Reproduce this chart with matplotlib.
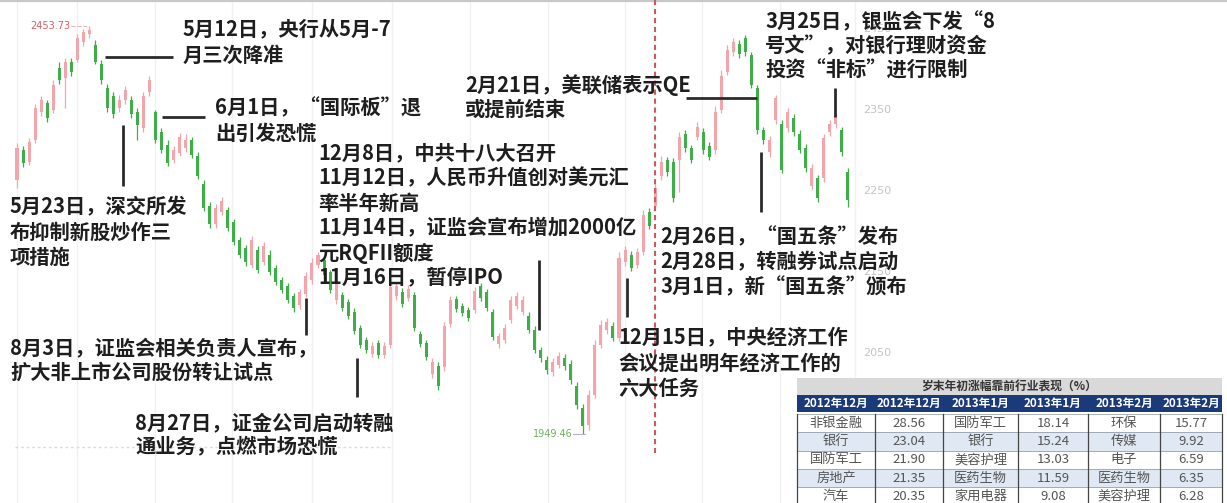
import matplotlib
matplotlib.use("Agg")
import matplotlib.pyplot as plt
from matplotlib.patches import Rectangle
import numpy as np

plt.rcParams['font.family'] = ['Noto Sans CJK SC', 'DejaVu Sans']

# ============================================================
# 数据: 上证指数日K (2012.4 - 2013.4, 读图估计)
# ============================================================
opens = [2264, 2301, 2286, 2313, 2347, 2359, 2350, 2402, 2390, 2409,
         2412, 2434, 2444, 2430, 2407, 2377, 2367, 2352, 2362, 2362,
         2347, 2328, 2372, 2347, 2323, 2307, 2288, 2297, 2303, 2313,
         2293, 2259, 2231, 2209, 2224, 2227, 2212, 2190, 2180, 2159,
         2177, 2162, 2171, 2155, 2140, 2133, 2120, 2109, 2123, 2140,
         2159, 2165, 2150, 2115, 2122, 2113, 2101, 2081, 2066, 2049,
         2062, 2047, 2060, 2120, 2125, 2118, 2122, 2073, 2062, 2024,
         2034, 2033, 2086, 2117, 2108, 2103, 2103, 2133, 2125, 2101,
         2061, 2066, 2091, 2108, 2101, 2096, 2078, 2054, 2041, 2026,
         2035, 2044, 2036, 2009, 1982, 1961, 1998, 2060, 2078, 2083,
         2068, 2162, 2171, 2159, 2175, 2224, 2231, 2268, 2288, 2286,
         2288, 2320, 2303, 2317, 2323, 2306, 2301, 2350, 2397, 2422,
         2431, 2439, 2418, 2377, 2325, 2298, 2338, 2333, 2328, 2340,
         2320, 2303, 2256, 2266, 2266, 2323, 2333, 2325, 2273]
closes = [2303, 2285, 2311, 2352, 2362, 2340, 2381, 2387, 2409, 2397,
          2439, 2446, 2449, 2409, 2387, 2352, 2345, 2362, 2375, 2345,
          2331, 2367, 2387, 2313, 2301, 2285, 2301, 2317, 2313, 2294,
          2269, 2229, 2209, 2229, 2238, 2204, 2187, 2171, 2162, 2190,
          2152, 2182, 2150, 2138, 2128, 2115, 2106, 2125, 2145, 2161,
          2171, 2146, 2128, 2135, 2106, 2096, 2077, 2060, 2054, 2059,
          2047, 2059, 2131, 2133, 2110, 2129, 2081, 2061, 2045, 2039,
          2009, 2083, 2115, 2104, 2099, 2093, 2126, 2118, 2106, 2070,
          2071, 2081, 2115, 2120, 2115, 2078, 2054, 2044, 2029, 2039,
          2046, 2034, 2017, 1986, 1960, 1998, 2060, 2084, 2088, 2068,
          2167, 2177, 2155, 2175, 2220, 2207, 2254, 2286, 2273, 2241,
          2317, 2303, 2288, 2329, 2301, 2292, 2348, 2392, 2424, 2434,
          2419, 2422, 2381, 2325, 2313, 2313, 2365, 2276, 2348, 2323,
          2301, 2278, 2278, 2241, 2315, 2333, 2343, 2298, 2239]
highs = [2309, 2305, 2316, 2358, 2367, 2362, 2387, 2409, 2414, 2414,
         2444, 2450, 2453.73, 2436, 2412, 2382, 2372, 2369, 2380, 2367,
         2352, 2372, 2392, 2350, 2328, 2313, 2306, 2322, 2320, 2317,
         2298, 2264, 2236, 2234, 2243, 2230, 2215, 2193, 2183, 2194,
         2182, 2187, 2177, 2159, 2144, 2136, 2124, 2129, 2150, 2167,
         2175, 2168, 2152, 2140, 2125, 2117, 2105, 2085, 2070, 2064,
         2066, 2064, 2138, 2138, 2130, 2134, 2125, 2077, 2066, 2044,
         2039, 2088, 2120, 2120, 2112, 2107, 2131, 2136, 2129, 2104,
         2075, 2086, 2120, 2125, 2120, 2101, 2083, 2057, 2046, 2044,
         2051, 2049, 2041, 2014, 1987, 2004, 2066, 2091, 2093, 2088,
         2175, 2182, 2176, 2180, 2227, 2229, 2259, 2293, 2292, 2291,
         2323, 2325, 2307, 2335, 2328, 2311, 2355, 2399, 2430, 2439,
         2436, 2443, 2422, 2381, 2329, 2318, 2369, 2338, 2352, 2345,
         2325, 2308, 2283, 2270, 2320, 2338, 2346, 2329, 2278]
lows = [2254, 2280, 2282, 2309, 2342, 2335, 2346, 2382, 2352, 2392,
        2409, 2429, 2439, 2407, 2382, 2347, 2340, 2347, 2357, 2340,
        2313, 2323, 2367, 2309, 2297, 2281, 2285, 2293, 2298, 2291,
        2265, 2225, 2204, 2204, 2220, 2201, 2183, 2167, 2157, 2155,
        2149, 2159, 2146, 2134, 2124, 2112, 2101, 2104, 2119, 2135,
        2155, 2143, 2124, 2111, 2102, 2092, 2073, 2056, 2050, 2045,
        2044, 2044, 2056, 2115, 2107, 2114, 2077, 2057, 2041, 2019,
        2004, 2028, 2082, 2101, 2096, 2089, 2099, 2114, 2102, 2066,
        2056, 2062, 2087, 2104, 2097, 2075, 2050, 2039, 2024, 2022,
        2031, 2029, 2012, 1981, 1949.46, 1955, 1994, 2056, 2073, 2065,
        2065, 2157, 2151, 2155, 2171, 2203, 2227, 2264, 2268, 2236,
        2249, 2298, 2285, 2313, 2296, 2288, 2296, 2346, 2393, 2417,
        2414, 2417, 2377, 2320, 2308, 2292, 2333, 2272, 2323, 2318,
        2297, 2273, 2251, 2236, 2261, 2318, 2328, 2293, 2230]

price_ticks = [2050, 2150, 2250, 2350, 2450]

# 事件注释 (左端x, 首行y, 行距, 文本行) —— 像素坐标
notes = [
    (183, 29, 26, ["5月12日，央行从5月-7", "月三次降准"]),
    (215, 108, 25, ["6月1日，“国际板”退", "出引发恐慌"]),
    (10, 207, 25, ["5月23日，深交所发", "布抑制新股炒作三", "项措施"]),
    (318, 153, 25, ["12月8日，中共十八大召开", "11月12日，人民币升值创对美元汇",
                    "率半年新高", "11月14日，证监会宣布增加2000亿",
                    "元RQFII额度", "11月16日，暂停IPO"]),
    (465, 85, 24, ["2月21日，美联储表示QE", "或提前结束"]),
    (765, 22, 24, ["3月25日，银监会下发“8", "号文”，对银行理财资金", "投资“非标”进行限制"]),
    (660, 237, 25, ["2月26日，“国五条”发布", "2月28日，转融券试点启动", "3月1日，新“国五条”颁布"]),
    (618, 338, 25, ["12月15日，中央经济工作", "会议提出明年经济工作的", "六大任务"]),
    (10, 348, 24, ["8月3日，证监会相关负责人宣布，", "扩大非上市公司股份转让试点"]),
    (135, 423, 24, ["8月27日，证金公司启动转融", "通业务，点燃市场恐慌"]),
]
leaders = [((105, 57), (173, 57)), ((162, 117), (205, 117)), ((123, 125), (123, 186)),
           ((306, 298), (306, 335)), ((357, 358), (357, 397)), ((539, 260), (539, 330)),
           ((627, 278), (627, 317)), ((686, 98), (757, 98)), ((761, 152), (761, 212)),
           ((835, 88), (835, 117))]

# 右下表格
table_title = "岁末年初涨幅靠前行业表现（%）"
table_header = ["2012年12月", "2012年12月", "2013年1月", "2013年1月", "2013年2月", "2013年2月"]
dec_inds = ["非银金融", "银行", "国防军工", "房地产", "汽车"]
dec_vals = [28.56, 23.04, 21.90, 21.35, 20.35]
jan_inds = ["国防军工", "银行", "美容护理", "医药生物", "家用电器"]
jan_vals = [18.14, 15.24, 13.03, 11.59, 9.08]
feb_inds = ["环保", "传媒", "电子", "医药生物", "美容护理"]
feb_vals = [15.77, 9.92, 6.59, 6.35, 6.28]

# ============================================================
# 画布
# ============================================================
W, H = 1227, 503
fig = plt.figure(figsize=(W / 100, H / 100), dpi=100)
ax = fig.add_axes([0, 0, 1, 1])
X0, STEP = 17, 6.02          # 第一根K线像素位置, K线间距
Y_TOP, Y_PER_PX = 2485.8, 1.2346
ax.set_xlim(-X0 / STEP, (W - X0) / STEP)
ax.set_ylim(Y_TOP - Y_PER_PX * H, Y_TOP)
ax.axis("off")


def px2k(px):
    return (px - X0) / STEP


opens = np.array(opens, float)
closes = np.array(closes, float)
highs = np.array(highs, float)
lows = np.array(lows, float)
idx = np.arange(len(closes))

# 淡网格
for gx in [17, 77, 155, 232, 312, 392, 470, 548, 625, 702, 780, 855]:
    ax.axvline(px2k(gx), color="#f1f1f1", lw=1, zorder=0)

UP, DOWN = "#f3a5ab", "#3fae49"
col = np.where(closes >= opens, UP, DOWN)
ax.vlines(idx, lows, highs, colors=col, lw=0.9, zorder=2)
body = np.maximum(np.abs(closes - opens), 0.8)
ax.bar(idx, body, bottom=np.minimum(opens, closes), width=0.5, color=col, zorder=3)

# 最高/最低标注
imax, imin = int(np.argmax(highs)), int(np.argmin(lows))
ax.plot([imax - 3, imax - 0.3], [highs[imax]] * 2, color="#e9b5b8", lw=0.8, ls="--")
ax.text(imax - 3.2, highs[imax], f"{highs[imax]:.2f}", ha="right", va="center",
        fontsize=7, color="#d95c66", family="DejaVu Sans")
ax.plot([imin - 1.6, imin + 0.3], [lows[imin]] * 2, color="#b8b0d8", lw=0.8)
ax.text(imin - 1.7, lows[imin], f"{lows[imin]:.2f}", ha="right", va="center",
        fontsize=7, color="#6db35a", family="DejaVu Sans")

# 右侧价格刻度 (部分被注释文字压住, 与原图一致)
for v in price_ticks:
    ax.text(px2k(877), v, str(v), ha="center", va="center", fontsize=8,
            color="#c4c4c4", family="DejaVu Sans", zorder=1)

# ============================================================
# 覆盖层: 像素坐标
# ============================================================
ov = fig.add_axes([0, 0, 1, 1], zorder=5)
ov.set_xlim(0, W)
ov.set_ylim(H, 0)
ov.axis("off")
ov.patch.set_alpha(0)

ov.plot([0, W], [0.8, 0.8], color="#c8c8c8", lw=1.6)
ov.plot([15, 390], [447, 447], color="#dcdcdc", lw=1, ls=(0, (2, 2)))
ov.plot([655, 655], [0, 453], color="#cf5a5e", lw=1.5, ls=(0, (2.5, 1.8)))

for (p0, p1) in leaders:
    ov.plot([p0[0], p1[0]], [p0[1], p1[1]], color="#2b2b2b", lw=2, solid_capstyle="butt")

for x, y, dy, lines in notes:
    for i, line in enumerate(lines):
        ov.text(x, y + i * dy, line, ha="left", va="center", fontsize=14.6,
                fontweight="bold", color="#1e1e1e")

# 表格
cols_px = [797, 875, 943, 1018, 1088, 1160, 1222]
ov.add_patch(Rectangle((cols_px[0], 378), cols_px[-1] - cols_px[0], 17,
                       facecolor="#d9d9d9", edgecolor="none"))
ov.text((cols_px[0] + cols_px[-1]) / 2, 387, table_title, ha="center", va="center",
        fontsize=8.5, fontweight="bold", color="#333333")
ov.add_patch(Rectangle((cols_px[0], 395), cols_px[-1] - cols_px[0], 16.5,
                       facecolor="#1b3a7a", edgecolor="none"))
for j, h in enumerate(table_header):
    ov.text((cols_px[j] + cols_px[j + 1]) / 2, 403.5, h, ha="center", va="center",
            fontsize=8.4, fontweight="bold", color="white")

ROW_TOP, ROW_H = 414, 18.3
for r in range(len(dec_inds)):
    top = ROW_TOP + r * ROW_H
    fc = "#dfe8f3" if r % 2 == 1 else "white"
    ov.add_patch(Rectangle((cols_px[0], top), cols_px[-1] - cols_px[0], ROW_H,
                           facecolor=fc, edgecolor="#9aa4b0", lw=0.6))
    cells = [dec_inds[r], f"{dec_vals[r]:.2f}", jan_inds[r], f"{jan_vals[r]:.2f}",
             feb_inds[r], f"{feb_vals[r]:.2f}"]
    for j, c in enumerate(cells):
        ov.text((cols_px[j] + cols_px[j + 1]) / 2, top + ROW_H / 2, c, ha="center",
                va="center", fontsize=9.5, color="#555555")
for cx in cols_px:
    ov.plot([cx, cx], [ROW_TOP, H], color="#444444", lw=0.9)

fig.savefig("out.png", dpi=100)
plt.close(fig)
